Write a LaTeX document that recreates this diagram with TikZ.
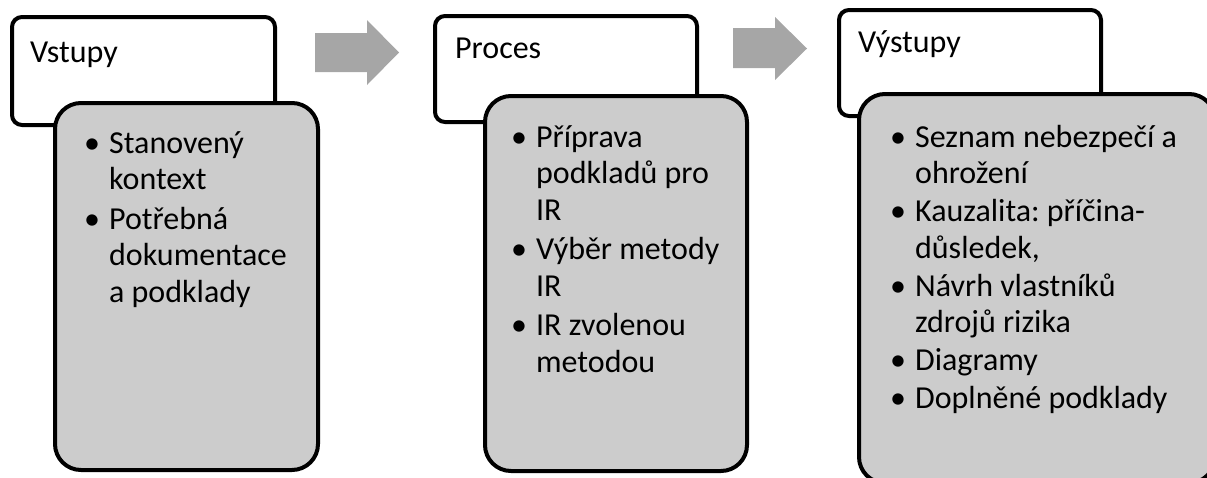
\documentclass[tikz,border=0pt]{standalone}
\usepackage{fontspec}
\setmainfont{Carlito}
\usepackage{tikz}
\definecolor{boxgray}{HTML}{CCCCCC}
\definecolor{arrowgray}{HTML}{A6A6A6}
\tikzset{basic/.style={draw=black,line width=4pt,inner sep=0pt}}
\tikzset{headbox/.style={basic,fill=white,rounded corners=10pt}}
\tikzset{listbox/.style={basic,fill=boxgray,rounded corners=26pt}}
\tikzset{blockarrow/.style={fill=arrowgray}}
\newcommand{\itemlist}[1]{\begin{tabular}[t]{@{}l@{\hspace{9pt}}l@{}}#1\end{tabular}}
\frenchspacing
\begin{document}
\begin{tikzpicture}[x=1pt,y=-1pt,font=\fontsize{32}{36.5}\selectfont,
                    boxtext/.style={inner sep=0pt,anchor=base west}]
  \useasboundingbox (0,0) rectangle (1207,477);

  % First group: inputs
  \node (head_in) [headbox,minimum width=263pt,minimum height=108pt] at (143.5,71) {};
  \node (list_in) [listbox,minimum width=263pt,minimum height=367pt] at (186.5,286.5) {};
  \node (title_in) [boxtext] at (30,62) {Vstupy};
  \node (items_in) [boxtext] at (84,153) {\itemlist{
      \textbullet & Stanovený\\
                  & kontext\\[3pt]
      \textbullet & Potřebná\\
                  & dokumentace\\
                  & a podklady}};

  % Second group: process
  \node (head_proc) [headbox,minimum width=262pt,minimum height=106pt] at (566,69) {};
  \node (list_proc) [listbox,minimum width=262pt,minimum height=375pt] at (616,283.5) {};
  \node (title_proc) [boxtext] at (455,58) {Proces};
  \node (items_proc) [boxtext] at (511,147) {\itemlist{
      \textbullet & Příprava\\
                  & podkladů pro\\
                  & IR\\[3pt]
      \textbullet & Výběr metody\\
                  & IR\\[3pt]
      \textbullet & IR zvolenou\\
                  & metodou}};

  % Third group: outputs
  \node (head_out) [headbox,minimum width=262pt,minimum height=106pt] at (970,63) {};
  \node (list_out) [listbox,minimum width=356pt,minimum height=389pt] at (1037,288.5) {};
  \node (title_out) [boxtext] at (858,52) {Výstupy};
  \node (items_out) [boxtext] at (890,147) {\itemlist{
      \textbullet & Seznam nebezpečí a\\
                  & ohrožení\\[1.5pt]
      \textbullet & Kauzalita: příčina-\\
                  & důsledek,\\[1.5pt]
      \textbullet & Návrh vlastníků\\
                  & zdrojů rizika\\[1.5pt]
      \textbullet & Diagramy\\[1.5pt]
      \textbullet & Doplněné podklady}};

  % Block arrows between the groups
  \fill[blockarrow] (315,33) -- (367,33) -- (367,20) -- (399,52.5)
    -- (367,85) -- (367,72) -- (315,72) -- cycle;
  \fill[blockarrow] (733,28) -- (775,28) -- (775,17) -- (807,48.5)
    -- (775,80) -- (775,68) -- (733,68) -- cycle;

\end{tikzpicture}
\end{document}
